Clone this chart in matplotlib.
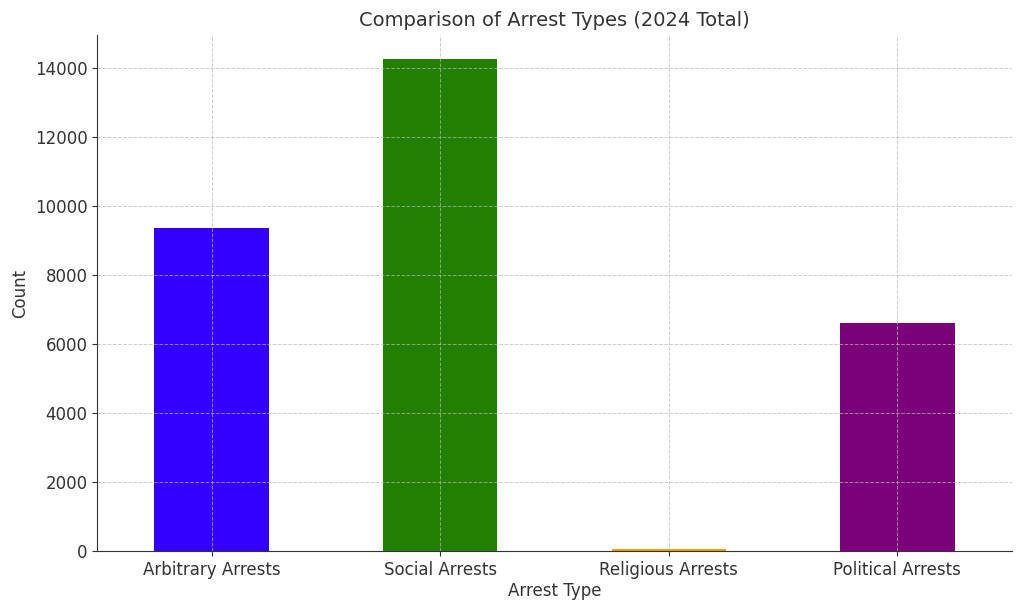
import numpy as np
import matplotlib
matplotlib.use("Agg")
import matplotlib.pyplot as plt

# Données (total 2024)
arrest_types = ['Arbitrary Arrests', 'Social Arrests', 'Religious Arrests', 'Political Arrests']
counts = [9350, 14250, 60, 6620]
bar_colors = ['#3300ff', '#237f00', '#f0a000', '#7a007a']

text_color = '#333333'
plt.rcParams['text.color'] = text_color
plt.rcParams['axes.labelcolor'] = text_color
plt.rcParams['xtick.color'] = text_color
plt.rcParams['ytick.color'] = text_color

fig, ax = plt.subplots(figsize=(10.24, 6.06), dpi=100)
ax.bar(arrest_types, counts, color=bar_colors, width=0.5)
ax.set_xlim(-0.5, len(arrest_types) - 0.5)

ax.set_title('Comparison of Arrest Types (2024 Total)', fontsize=14)
ax.set_xlabel('Arrest Type', fontsize=12, labelpad=2)
ax.set_ylabel('Count', fontsize=12)
ax.tick_params(labelsize=12)
ax.grid(True, linestyle='--', color='#b8b8b8', linewidth=0.7, alpha=0.7)

for side in ['top', 'right']:
    ax.spines[side].set_visible(False)
for side in ['left', 'bottom']:
    ax.spines[side].set_color(text_color)

fig.subplots_adjust(left=0.095, right=0.988, top=0.943, bottom=0.09)
fig.savefig('out.png', dpi=100)
